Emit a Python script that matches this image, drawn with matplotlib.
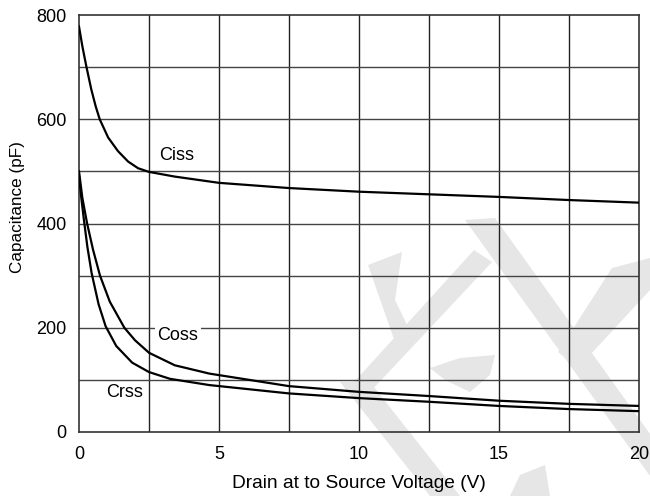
import matplotlib
matplotlib.use("Agg")
import matplotlib.pyplot as plt
from matplotlib.patches import Polygon

plt.rcParams.update({"font.family": ["Liberation Sans", "DejaVu Sans"], "font.size": 13})

# curves (V, pF)
v_ciss = [0, 0.12, 0.26, 0.44, 0.6, 0.74, 1.04, 1.39, 1.75, 2.11, 2.5, 3.42, 5, 7.5, 10, 12.5, 15, 17.5, 20]
ciss = [778, 740, 702, 657, 624, 600, 565, 539, 519, 506, 499, 490, 478, 468, 461, 456, 451, 445, 440]

v_coss = [0, 0.12, 0.29, 0.5, 0.75, 1.1, 1.62, 2.0, 2.5, 3.42, 4.66, 7.5, 10, 12.5, 15, 17.5, 20]
coss = [500, 449, 400, 350, 300, 250, 200, 176, 152, 128, 112, 88, 77, 69, 60, 54, 50]

v_crss = [0, 0.08, 0.18, 0.3, 0.45, 0.7, 0.95, 1.33, 1.9, 2.5, 3.25, 4.66, 7.5, 10, 12.5, 15, 17.5, 20]
crss = [492, 450, 405, 355, 305, 245, 203, 165, 133, 115, 102, 90, 74, 65, 58, 50, 44, 40]

xticks = [0, 5, 10, 15, 20]
yticks = [0, 200, 400, 600, 800]

W, H = 650, 496
fig = plt.figure(figsize=(W / 100, H / 100), dpi=100)
ax = fig.add_axes([79 / W, 1 - 432 / H, 560 / W, 417 / H])
ax.patch.set_alpha(0)

# light grey watermark (pixel coords of the reference)
marks = [
    [(465, 220), (495, 218), (650, 434), (650, 476)],
    [(612, 268), (650, 258), (650, 290), (578, 368), (558, 352)],
    [(474, 250), (492, 262), (370, 392), (345, 392)],
    [(368, 265), (402, 252), (395, 300), (412, 335), (395, 342)],
    [(430, 368), (460, 358), (495, 355), (490, 375), (470, 392), (445, 380)],
    [(340, 382), (370, 382), (460, 496), (430, 496)],
    [(510, 496), (520, 475), (545, 465), (550, 496)],
]
for m in marks:
    fig.add_artist(Polygon([(x / W, 1 - y / H) for x, y in m], closed=True,
                           facecolor="#e6e6e6", edgecolor="none", zorder=-1))

for x in [i * 2.5 for i in range(1, 8)]:
    ax.axvline(x, color="#222222", lw=1.0, zorder=1)
for y in range(100, 800, 100):
    ax.axhline(y, color="#444444", lw=1.0, zorder=1)

for v, c in [(v_ciss, ciss), (v_coss, coss), (v_crss, crss)]:
    ax.plot(v, c, color="black", lw=1.6, zorder=3, solid_joinstyle="round")

ax.text(3.48, 531, "Ciss", ha="center", va="center", fontsize=13, zorder=4)
ax.text(3.53, 186, "Coss", ha="center", va="center", fontsize=13, zorder=4,
        bbox=dict(facecolor="white", edgecolor="none", pad=2))
ax.text(1.64, 75, "Crss", ha="center", va="center", fontsize=13, zorder=4)

ax.set_xlim(0, 20)
ax.set_ylim(0, 800)
ax.set_xticks(xticks)
ax.set_yticks(yticks)
ax.tick_params(axis="x", length=0, pad=10, labelsize=13)
ax.tick_params(axis="y", length=0, pad=9, labelsize=13)
for s in ax.spines.values():
    s.set_color("#333333")
    s.set_linewidth(1.2)
ax.set_xlabel("Drain at to Source Voltage (V)", fontsize=13.8, labelpad=9)
ax.set_ylabel("Capacitance (pF)", fontsize=12.3)
ax.yaxis.set_label_coords(-0.0964, 0.5396)

fig.savefig("out.png", dpi=100)
